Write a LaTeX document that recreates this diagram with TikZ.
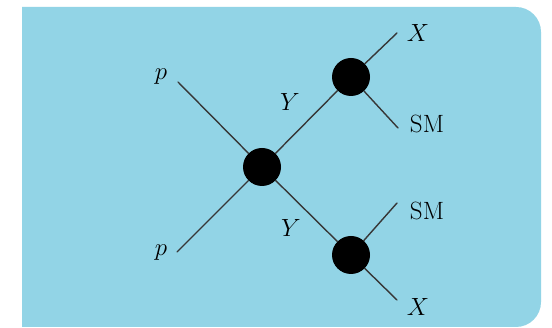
\documentclass[tikz,border=0pt]{standalone}
\usepackage{tikz}
\definecolor{skyfill}{RGB}{146,212,230}
\definecolor{legline}{RGB}{55,55,55}

\begin{document}
\begin{tikzpicture}[
  x=1pt,
  y=-1pt,
  line cap=round,
  line join=round,
  vertex/.style={circle, fill=black, draw=none, minimum size=38, inner sep=0},
  leg/.style={draw=legline, line width=1.4},
  partlabel/.style={font=\fontsize{25}{28}\selectfont, inner sep=0, text=black}
]
\path[use as bounding box] (0,0) rectangle (552,328);
\fill[white] (0,0) rectangle (552,328);

% Panel
\fill[skyfill] (22,327) -- (22,7) [rounded corners=25] -- (541,7) -- (541,327) [sharp corners] -- cycle;

% Vertices
\node[vertex] (vc) at (262,167) {};
\node[vertex] (vt) at (351,77) {};
\node[vertex] (vb) at (351,255) {};

% Free ends of the legs
\coordinate (pin1) at (178,82);
\coordinate (pin2) at (177,252);
\coordinate (xt) at (397,33);
\coordinate (smt) at (398,128);
\coordinate (smb) at (397,203);
\coordinate (xb) at (397,300);

% Legs
\draw[leg] (pin1) -- (vc);
\draw[leg] (pin2) -- (vc);
\draw[leg] (vc) -- (vt);
\draw[leg] (vc) -- (vb);
\draw[leg] (vt) -- (xt);
\draw[leg] (vt) -- (smt);
\draw[leg] (vb) -- (smb);
\draw[leg] (vb) -- (xb);

% Labels
\node[partlabel] (lp1) at (161,77) {$p$};
\node[partlabel] (lp2) at (161,253) {$p$};
\node[partlabel] (ly1) at (290,102) {$Y$};
\node[partlabel] (ly2) at (291,228) {$Y$};
\node[partlabel] (lxt) at (418,33) {$X$};
\node[partlabel] (lsmt) at (427,124) {SM};
\node[partlabel] (lsmb) at (427,211) {SM};
\node[partlabel] (lxb) at (418,307) {$X$};

\end{tikzpicture}
\end{document}
